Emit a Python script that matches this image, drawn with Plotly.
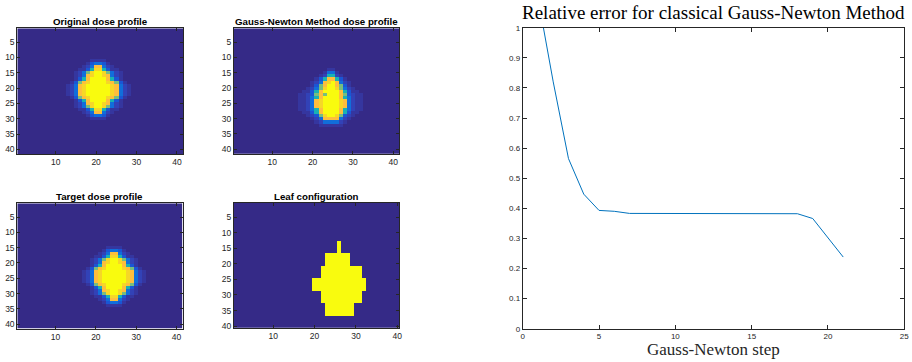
import plotly.graph_objects as go

# ---------------- data ----------------
# dose level code (0-9) -> dose value
LEVELS = [0.0, 0.03, 0.06, 0.10, 0.17, 0.45, 0.60, 0.84, 0.93, 1.0]

GRID_N = 41
LEAF_N = 40

# Original dose profile: rows start at row 11, columns at col 13
ORIGINAL_ROW0, ORIGINAL_COL0 = 11, 13
ORIGINAL_ROWS = [
    "0000001111000000",
    "0000013443100000",
    "0000124774210000",
    "0001135885311000",
    "0012468998642100",
    "0012478998742100",
    "0013579999753100",
    "0136789999876310",
    "1247899999987421",
    "1247899999987421",
    "1247899999987421",
    "1247899999987421",
    "0136789999876310",
    "0013579999753100",
    "0012478998742100",
    "0012468998642100",
    "0001135885311000",
    "0000124774210000",
    "0000013443100000",
    "0000001111000000",
]

# Gauss-Newton dose profile: rows start at row 14, columns at col 15
GN_ROW0, GN_COL0 = 14, 15
GN_ROWS = [
    "00000000011000000000",
    "00000000144100000000",
    "00000001255210000000",
    "00000013577531000000",
    "00000124789742100000",
    "00000136799763100000",
    "00001246899864210000",
    "00011357999975311000",
    "00112367699976321100",
    "00112457999975421100",
    "00112478999987421100",
    "00112478999987421100",
    "00112478999987421100",
    "00112457999975421100",
    "00011357999975311000",
    "00001236899863210000",
    "00000124777742100000",
    "00000012444421000000",
    "00000001111110000000",
]

# Target dose profile: rows start at row 15, columns at col 17
TARGET_ROW0, TARGET_COL0 = 15, 17
TARGET_ROWS = [
    "0000001111000000",
    "0000013443100000",
    "0000124774210000",
    "0001135885311000",
    "0012468998642100",
    "0012478998742100",
    "0013579999753100",
    "0136789999876310",
    "1247899999987421",
    "1247899999987421",
    "1247899999987421",
    "1247899999987421",
    "0136789999876310",
    "0013579999753100",
    "0012478998742100",
    "0012468998642100",
    "0001135885311000",
    "0000124774210000",
    "0000013443100000",
    "0000001111000000",
]

# Leaf configuration (open = 1): rows start at row 13, columns at col 20
LEAF_ROW0, LEAF_COL0 = 13, 20
LEAF_ROWS = [
    "0000001000000",
    "0000001000000",
    "0000001000000",
    "0000001000000",
    "0001111110000",
    "0001111110000",
    "0001111110000",
    "0001111110000",
    "0011111111110",
    "0011111111110",
    "0011111111110",
    "0011111111110",
    "1111111111111",
    "1111111111111",
    "1111111111111",
    "1111111111111",
    "0011111111110",
    "0011111111110",
    "0011111111110",
    "0011111111110",
    "0001111111000",
    "0001111111000",
    "0001111111000",
    "0001111111000",
]
LEAF_LEVELS = [0.0, 1.0]

STEPS = [1, 2, 3, 4, 5, 6, 7, 8, 9, 10, 11, 12, 13, 14, 15, 16, 17, 18, 19, 20, 21]
REL_ERR = [1.10, 0.82, 0.565, 0.447, 0.393, 0.390, 0.383, 0.383, 0.382, 0.382, 0.383,
           0.382, 0.381, 0.381, 0.381, 0.382, 0.382, 0.382, 0.366, 0.300, 0.238]

PANEL_TITLES = ["Original dose profile", "Gauss-Newton Method dose profile",
                "Target dose profile", "Leaf configuration"]
LINE_TITLE = "Relative error for classical Gauss-Newton Method"
LINE_XLABEL = "Gauss-Newton step"

# ---------------- styling ----------------
PARULA = [
    [0.0, "rgb(53,42,135)"], [0.048, "rgb(53,61,173)"], [0.079, "rgb(44,74,199)"],
    [0.111, "rgb(15,92,221)"], [0.222, "rgb(18,125,216)"], [0.333, "rgb(7,156,207)"],
    [0.444, "rgb(21,177,180)"], [0.556, "rgb(89,189,140)"], [0.667, "rgb(165,190,107)"],
    [0.730, "rgb(200,188,93)"], [0.778, "rgb(225,185,82)"], [0.810, "rgb(248,186,68)"],
    [0.841, "rgb(253,190,61)"], [0.889, "rgb(252,206,46)"], [0.937, "rgb(245,216,38)"],
    [1.0, "rgb(249,251,14)"],
]
AX_COLOR = "#262626"
SANS = "Liberation Sans, Arial, sans-serif"
SERIF = "Liberation Serif, Times New Roman, serif"
W, H = 912, 362


def expand(rows, row0, col0, n, table):
    grid = [[0.0] * n for _ in range(n)]
    for i, s in enumerate(rows):
        for j, ch in enumerate(s):
            grid[row0 - 1 + i][col0 - 1 + j] = table[int(ch)]
    return grid


grids = [
    (expand(ORIGINAL_ROWS, ORIGINAL_ROW0, ORIGINAL_COL0, GRID_N, LEVELS), GRID_N),
    (expand(GN_ROWS, GN_ROW0, GN_COL0, GRID_N, LEVELS), GRID_N),
    (expand(TARGET_ROWS, TARGET_ROW0, TARGET_COL0, GRID_N, LEVELS), GRID_N),
    (expand(LEAF_ROWS, LEAF_ROW0, LEAF_COL0, LEAF_N, LEAF_LEVELS), LEAF_N),
]

# panel boxes in pixels: (left, right, top, bottom), and title centre y
boxes = [
    (17.3, 183.0, 28.3, 154.0),
    (234.0, 399.3, 28.3, 153.8),
    (17.3, 182.5, 203.3, 328.7),
    (234.0, 399.3, 203.0, 327.7),
]
title_y = [21.5, 21.5, 196.3, 196.3]
line_box = (522.7, 904.3, 27.7, 328.7)


def xdom(b):
    return [b[0] / W, b[1] / W]


def ydom(b):
    return [1 - b[3] / H, 1 - b[2] / H]


fig = go.Figure()
layout = dict(
    width=W, height=H, autosize=False,
    margin=dict(l=0, r=0, t=0, b=0, pad=0),
    paper_bgcolor="white", plot_bgcolor="white",
    showlegend=False,
)

axis_common = dict(
    showline=True, linecolor=AX_COLOR, linewidth=1, mirror="ticks",
    ticks="inside", ticklen=3, tickwidth=1, tickcolor=AX_COLOR,
    showgrid=False, zeroline=False, automargin=False,
    tickfont=dict(family=SANS, size=8.5, color=AX_COLOR),
)

annotations = []
for k, ((z, n), b, title, ty) in enumerate(zip(grids, boxes, PANEL_TITLES, title_y)):
    idx = "" if k == 0 else str(k + 1)
    axes = list(range(1, n + 1))
    fig.add_trace(go.Heatmap(
        z=z, x=axes, y=axes, colorscale=PARULA, zmin=0, zmax=1,
        showscale=False, xaxis="x" + idx, yaxis="y" + idx, hoverinfo="skip",
    ))
    layout["xaxis" + idx] = dict(
        axis_common, domain=xdom(b), anchor="y" + idx,
        range=[0.5, n + 0.5], tickvals=[10, 20, 30, 40],
    )
    layout["yaxis" + idx] = dict(
        axis_common, domain=ydom(b), anchor="x" + idx,
        range=[n + 0.5, 0.5], tickvals=[5, 10, 15, 20, 25, 30, 35, 40],
    )
    annotations.append(dict(
        text="<b>" + title + "</b>", xref="paper", yref="paper",
        x=(b[0] + b[1]) / 2 / W, y=1 - ty / H, xanchor="center", yanchor="middle",
        showarrow=False, font=dict(family=SANS, size=9.7, color="black"),
    ))

# relative error line
fig.add_trace(go.Scatter(
    x=STEPS, y=REL_ERR, mode="lines", xaxis="x5", yaxis="y5",
    line=dict(color="rgb(0,114,189)", width=1), hoverinfo="skip",
))
ytv = [i / 10 for i in range(11)]
layout["xaxis5"] = dict(
    axis_common, domain=xdom(line_box), anchor="y5", range=[0, 25],
    tickvals=[0, 5, 10, 15, 20, 25], ticklen=4,
    tickfont=dict(family=SANS, size=8, color=AX_COLOR),
)
layout["yaxis5"] = dict(
    axis_common, domain=ydom(line_box), anchor="x5", range=[0, 1],
    tickvals=ytv, ticktext=["0", "0.1", "0.2", "0.3", "0.4", "0.5", "0.6", "0.7", "0.8", "0.9", "1"],
    ticklen=4, tickfont=dict(family=SANS, size=8, color=AX_COLOR),
)
cx = (line_box[0] + line_box[1]) / 2 / W
annotations.append(dict(
    text=LINE_TITLE, xref="paper", yref="paper", x=cx, y=1 - 12.0 / H,
    xanchor="center", yanchor="middle", showarrow=False,
    font=dict(family=SERIF, size=19, color="black"),
))
annotations.append(dict(
    text=LINE_XLABEL, xref="paper", yref="paper", x=cx, y=1 - 349.5 / H,
    xanchor="center", yanchor="middle", showarrow=False,
    font=dict(family=SERIF, size=17, color="#262626"),
))
layout["annotations"] = annotations

fig.update_layout(**layout)
fig.write_html(
    "out.html",
    config={"displayModeBar": False, "staticPlot": True},
    post_script="document.body.style.margin='0';document.body.style.padding='0';"
                "document.body.style.overflow='hidden';",
)
